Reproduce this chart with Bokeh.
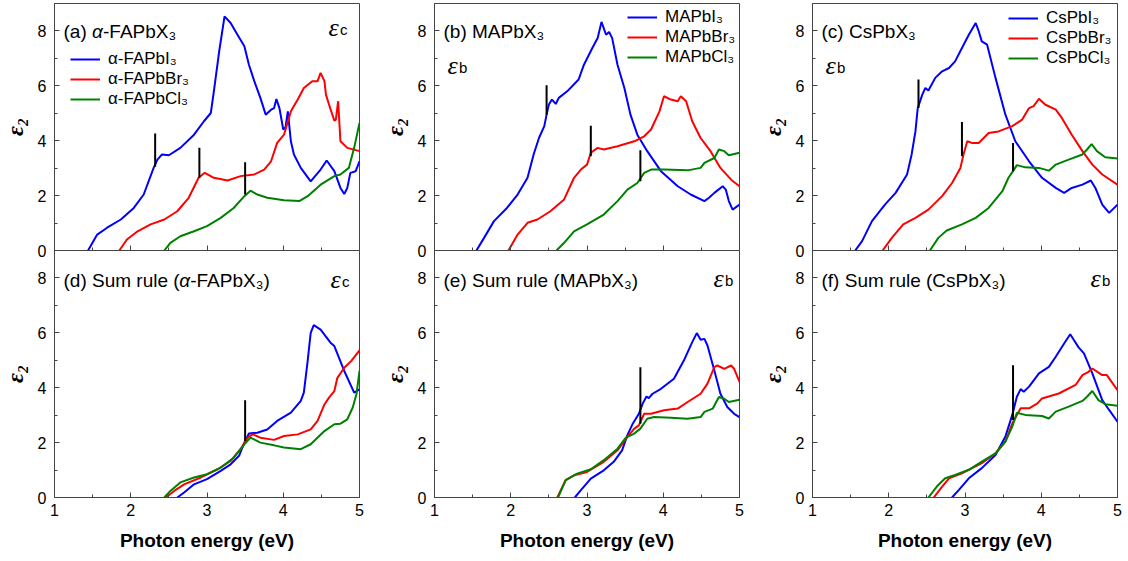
import math
from bokeh.plotting import figure
from bokeh.models import (Range1d, SingleIntervalTicker, Label, Legend, LegendItem,
                          CustomLabelingPolicy)
from bokeh.layouts import row, column
from bokeh.embed import file_html
from bokeh.resources import INLINE

# ---------------- data ----------------
# (a) alpha-FAPbX3, eps_c
A_I_X = [1.44,1.56,1.69,1.87,2.04,2.17,2.30,2.35,2.41,2.50,2.65,2.83,2.96,3.05,3.09,3.16,3.23,3.31,3.40,3.49,3.55,3.62,3.70,3.77,3.84,3.88,3.91,3.95,4.00,4.03,4.06,4.10,4.14,4.23,4.36,4.49,4.57,4.67,4.75,4.80,4.84,4.88,4.95,5.00]
A_I_Y = [0,0.58,0.83,1.13,1.55,2.04,3.01,3.31,3.50,3.47,3.74,4.22,4.71,5.01,5.80,7.26,8.53,8.29,7.86,7.44,6.77,6.17,5.56,4.95,5.13,5.19,5.52,5.19,4.41,4.49,5.07,3.98,3.50,3.01,2.52,2.95,3.28,2.89,2.28,2.06,2.28,2.83,2.89,3.25]
A_BR_X = [1.85,1.95,2.09,2.26,2.44,2.61,2.76,2.89,2.97,3.09,3.27,3.44,3.62,3.75,3.84,3.92,4.01,4.10,4.19,4.27,4.38,4.45,4.49,4.54,4.56,4.60,4.67,4.69,4.72,4.75,4.84,5.00]
A_BR_Y = [0,0.40,0.70,0.95,1.13,1.43,1.92,2.65,2.83,2.65,2.55,2.71,2.77,2.95,3.25,3.92,4.22,5.07,5.50,5.92,6.17,6.17,6.47,6.17,5.68,5.32,4.73,4.77,5.44,3.98,3.74,3.62]
A_CL_X = [2.44,2.52,2.65,2.83,3.00,3.18,3.35,3.49,3.57,3.66,3.79,4.01,4.21,4.32,4.49,4.67,4.75,4.86,4.93,5.00]
A_CL_Y = [0,0.28,0.52,0.70,0.89,1.19,1.55,1.98,2.18,2.04,1.92,1.83,1.80,1.98,2.40,2.71,2.77,3.01,3.74,4.65]
A_MK_X = [2.32,2.90,3.50]
A_MK_Y0 = [3.05,2.65,2.04]
A_MK_Y1 = [4.26,3.74,3.22]

# (b) MAPbX3, eps_b
B_I_X = [1.55,1.65,1.78,1.95,2.09,2.22,2.30,2.37,2.44,2.47,2.50,2.54,2.59,2.63,2.74,2.89,2.96,3.07,3.14,3.19,3.25,3.29,3.33,3.40,3.49,3.57,3.66,3.79,3.97,4.19,4.36,4.54,4.60,4.67,4.78,4.82,4.86,4.91,5.00]
B_I_Y = [0,0.46,1.07,1.55,2.04,2.65,3.50,4.10,4.53,4.95,5.32,5.50,5.34,5.56,5.80,6.23,6.77,7.38,7.74,8.33,7.86,7.96,7.74,6.77,5.92,4.95,4.22,3.62,2.89,2.34,2.04,1.80,1.92,2.10,2.34,2.22,1.80,1.49,1.67]
B_BR_X = [1.97,2.09,2.22,2.35,2.52,2.70,2.83,2.92,3.00,3.05,3.14,3.22,3.40,3.62,3.75,3.84,3.95,4.01,4.10,4.19,4.23,4.30,4.38,4.49,4.62,4.75,4.89,5.00]
B_BR_Y = [0,0.58,1.01,1.13,1.43,1.86,2.65,2.95,3.13,3.56,3.74,3.68,3.80,3.98,4.16,4.41,5.07,5.62,5.50,5.44,5.62,5.44,4.71,4.10,3.62,3.01,2.58,2.34]
B_CL_X = [2.60,2.70,2.83,3.00,3.22,3.40,3.53,3.66,3.75,3.84,4.01,4.32,4.49,4.54,4.67,4.73,4.80,4.86,5.00]
B_CL_Y = [0,0.28,0.70,0.95,1.31,1.80,2.22,2.46,2.83,2.95,2.95,2.92,3.01,3.19,3.37,3.68,3.62,3.47,3.56]
B_MK_X = [2.47,3.05,3.70]
B_MK_Y0 = [4.95,3.43,2.52]
B_MK_Y1 = [6.02,4.55,3.65]

# (c) CsPbX3, eps_b
C_I_X = [1.56,1.65,1.78,1.95,2.09,2.24,2.30,2.35,2.38,2.44,2.48,2.52,2.61,2.70,2.79,2.87,2.96,3.05,3.14,3.18,3.22,3.29,3.40,3.53,3.66,3.84,4.01,4.19,4.30,4.40,4.54,4.65,4.71,4.80,4.89,5.00]
C_I_Y = [0,0.34,1.07,1.67,2.10,2.77,3.50,4.34,5.19,5.68,5.92,5.83,6.29,6.53,6.65,6.89,7.38,7.86,8.29,7.99,7.62,7.50,6.29,4.95,3.98,3.25,2.65,2.28,2.10,2.28,2.40,2.55,2.28,1.67,1.37,1.67]
C_BR_X = [1.92,2.04,2.19,2.35,2.52,2.70,2.83,2.94,2.98,3.03,3.09,3.18,3.31,3.44,3.62,3.75,3.84,3.90,3.97,4.05,4.19,4.27,4.40,4.54,4.67,4.80,5.00]
C_BR_Y = [0,0.46,0.95,1.19,1.49,1.98,2.46,3.01,3.50,3.98,3.92,3.92,4.28,4.34,4.53,4.77,5.19,5.26,5.53,5.32,5.13,4.83,4.22,3.62,3.13,2.77,2.40]
C_CL_X = [2.54,2.65,2.76,2.96,3.14,3.31,3.49,3.57,3.63,3.68,3.79,3.97,4.10,4.19,4.36,4.54,4.60,4.66,4.73,4.84,5.00]
C_CL_Y = [0,0.46,0.73,0.95,1.19,1.55,2.16,2.65,2.89,3.11,3.03,3.01,2.91,3.13,3.31,3.50,3.68,3.88,3.62,3.40,3.35]
C_MK_X = [2.39,2.96,3.63]
C_MK_Y0 = [5.19,3.43,2.89]
C_MK_Y1 = [6.23,4.68,3.92]

# (d) Sum rule alpha-FAPbX3
D_I_X = [2.61,2.70,2.83,3.00,3.18,3.31,3.42,3.49,3.55,3.66,3.79,3.92,4.10,4.23,4.27,4.32,4.36,4.40,4.49,4.62,4.67,4.80,4.93,5.00]
D_I_Y = [0,0.18,0.48,0.67,0.97,1.21,1.52,2.00,2.33,2.36,2.48,2.79,3.09,3.52,3.82,4.97,6.00,6.28,6.12,5.64,5.52,4.61,3.82,3.94]
D_BR_X = [2.46,2.57,2.70,2.92,3.14,3.31,3.44,3.53,3.60,3.70,3.88,4.01,4.19,4.36,4.45,4.54,4.60,4.67,4.71,4.80,4.89,5.00]
D_BR_Y = [0,0.24,0.48,0.73,1.03,1.33,1.76,2.18,2.30,2.18,2.10,2.24,2.30,2.48,2.79,3.39,3.64,3.88,4.36,4.73,4.97,5.36]
D_CL_X = [2.44,2.52,2.65,2.83,3.00,3.18,3.35,3.49,3.57,3.70,3.88,4.01,4.23,4.36,4.54,4.67,4.75,4.84,4.91,4.96,5.00]
D_CL_Y = [0,0.24,0.55,0.73,0.85,1.09,1.45,1.94,2.18,2.00,1.90,1.82,1.76,1.94,2.42,2.67,2.69,2.85,3.27,3.76,4.61]
D_MK_X = [3.50]
D_MK_Y0 = [2.06]
D_MK_Y1 = [3.54]

# (e) Sum rule MAPbX3
E_I_X = [2.84,2.92,3.05,3.22,3.35,3.46,3.53,3.60,3.68,3.73,3.78,3.81,3.86,3.97,4.14,4.27,4.38,4.44,4.49,4.54,4.58,4.67,4.75,4.84,4.93,5.00]
E_I_Y = [0,0.27,0.69,0.99,1.30,1.72,2.27,2.69,3.05,3.42,3.68,3.62,3.78,3.96,4.33,4.99,5.66,5.99,5.75,5.78,5.54,4.63,3.78,3.30,3.05,2.93]
E_BR_X = [2.61,2.72,2.83,3.00,3.22,3.40,3.53,3.62,3.68,3.75,3.84,4.01,4.19,4.32,4.49,4.58,4.67,4.71,4.80,4.89,4.93,5.00]
E_BR_Y = [0,0.63,0.81,0.93,1.30,1.72,2.21,2.51,2.63,3.05,3.05,3.18,3.24,3.48,3.78,4.15,4.75,4.81,4.69,4.81,4.69,4.21]
E_CL_X = [2.62,2.72,2.87,3.05,3.22,3.40,3.51,3.62,3.70,3.79,3.88,4.10,4.32,4.49,4.54,4.65,4.73,4.80,4.86,5.00]
E_CL_Y = [0,0.63,0.87,1.03,1.36,1.78,2.18,2.33,2.51,2.87,2.93,2.91,2.87,2.93,3.12,3.24,3.66,3.60,3.48,3.56]
E_MK_X = [3.70]
E_MK_Y0 = [2.69]
E_MK_Y1 = [4.75]

# (f) Sum rule CsPbX3
F_I_X = [2.83,2.92,3.05,3.22,3.40,3.53,3.62,3.68,3.73,3.77,3.84,3.97,4.10,4.19,4.30,4.38,4.43,4.49,4.56,4.67,4.80,4.89,5.00]
F_I_Y = [0,0.28,0.70,1.07,1.55,2.22,3.01,3.67,3.95,3.85,4.04,4.52,4.76,5.13,5.61,5.95,5.73,5.47,5.25,4.52,3.55,3.19,2.76]
F_BR_X = [2.59,2.70,2.79,2.96,3.22,3.40,3.53,3.62,3.73,3.84,3.95,4.01,4.23,4.45,4.54,4.62,4.67,4.80,4.86,5.00]
F_BR_Y = [0,0.40,0.70,0.88,1.25,1.61,2.04,2.70,3.25,3.25,3.43,3.61,3.79,4.10,4.46,4.58,4.70,4.46,4.46,3.91]
F_CL_X = [2.52,2.63,2.74,2.87,3.05,3.22,3.40,3.53,3.62,3.68,3.79,4.01,4.10,4.19,4.36,4.54,4.60,4.67,4.75,4.84,5.00]
F_CL_Y = [0,0.40,0.70,0.82,1.01,1.31,1.61,2.04,2.58,3.09,3.01,2.97,2.88,3.13,3.31,3.52,3.67,3.88,3.55,3.40,3.34]
F_MK_X = [3.63]
F_MK_Y0 = [2.82]
F_MK_Y1 = [4.82]

LEG_A = ["α-FAPbI₃", "α-FAPbBr₃", "α-FAPbCl₃"]
LEG_B = ["MAPbI₃", "MAPbBr₃", "MAPbCl₃"]
LEG_C = ["CsPbI₃", "CsPbBr₃", "CsPbCl₃"]
X_LABEL = "Photon energy (eV)"
Y_LABEL = "ε₂"

# ---------------- styling / layout ----------------
BLUE, RED, GREEN = "#0000ff", "#ff0000", "#008000"
FRAME_C = "#444444"
SANS = "Liberation Sans"
SERIF = "Liberation Serif"
SHIFT = 12                 # canvases start this far left of their slot
LEFT = 54 + SHIFT          # left border inside each canvas
COL_W = [380 + SHIFT, 378 + SHIFT, 370 + SHIFT]
COL_RB = [21, 19, 11]
FRAME_W = 305
FRAME_H = 247
OVER = 12                  # top row overflows into bottom row by this much
BOT_B = 64
XPX = FRAME_W / 4.0
YPX = FRAME_H / 9.0

HIDE_ALL = CustomLabelingPolicy(code="""
for (const i of indices) { indices.unset(i) }
return indices
""")


def fx(px):  # frame-relative pixel -> data x
    return 1 + px / XPX


def fy(py):  # pixels below frame top -> data y
    return 9 - py / YPX


def lab(p, x, y, text, size, font=SANS, style="normal", align="left",
        baseline="alphabetic"):
    p.add_layout(Label(x=x, y=y, text=text, text_font=font,
                       text_font_size=f"{size}px", text_font_style=style,
                       text_align=align, text_baseline=baseline,
                       text_color="black"))


def make_fig(col, bottom):
    if bottom:
        p = figure(width=COL_W[col], height=FRAME_H + BOT_B,
                   x_range=Range1d(1, 5), y_range=Range1d(0, 9),
                   output_backend="svg", toolbar_location=None,
                   min_border_left=LEFT, min_border_right=COL_RB[col],
                   min_border_top=0, min_border_bottom=BOT_B,
                   margin=(0, 0, 0, -SHIFT))
    else:
        p = figure(width=COL_W[col], height=3 + FRAME_H + OVER,
                   x_range=Range1d(1, 5), y_range=Range1d(0, 9),
                   output_backend="svg", toolbar_location=None,
                   min_border_left=LEFT, min_border_right=COL_RB[col],
                   min_border_top=3, min_border_bottom=OVER,
                   margin=(0, 0, -OVER, -SHIFT))
    p.xgrid.visible = False
    p.ygrid.visible = False
    p.outline_line_color = FRAME_C
    p.outline_line_width = 1
    p.background_fill_color = "white"
    p.border_fill_alpha = 0
    p.xaxis.ticker = SingleIntervalTicker(interval=1, num_minor_ticks=2)
    p.yaxis.ticker = SingleIntervalTicker(interval=2, num_minor_ticks=2)
    for ax in (p.xaxis[0], p.yaxis[0]):
        ax.axis_line_color = FRAME_C
        ax.major_tick_line_color = FRAME_C
        ax.minor_tick_line_color = FRAME_C
        ax.major_tick_in = 5
        ax.major_tick_out = 0
        ax.minor_tick_in = 3
        ax.minor_tick_out = 0
        ax.major_label_text_font = SANS
        ax.major_label_text_font_size = "16px"
        ax.major_label_text_color = "black"
    p.yaxis.major_label_standoff = 8
    p.yaxis.axis_label = Y_LABEL
    p.yaxis.axis_label_text_font = SERIF
    p.yaxis.axis_label_text_font_size = "24px"
    p.yaxis.axis_label_text_font_style = "bold italic"
    p.yaxis.axis_label_text_color = "black"
    p.yaxis.axis_label_standoff = 7
    if bottom:
        p.xaxis.major_label_standoff = 6
        p.xaxis.axis_label = X_LABEL
        p.xaxis.axis_label_text_font = SANS
        p.xaxis.axis_label_text_font_size = "19px"
        p.xaxis.axis_label_text_font_style = "bold"
        p.xaxis.axis_label_text_color = "black"
        p.xaxis.axis_label_standoff = 11
    else:
        p.xaxis.major_label_text_font_size = "1px"
        p.xaxis.major_label_standoff = 0
        p.xaxis.major_label_policy = HIDE_ALL
    return p


def curves(p, xs, ys):
    rs = []
    for (x, y), c in zip(zip(xs, ys), (BLUE, RED, GREEN)):
        rs.append(p.line(x, y, line_color=c, line_width=2))
    return rs


def marks(p, mx, my0, my1):
    p.segment(x0=mx, y0=my0, x1=mx, y1=my1, line_color="black", line_width=2)


def legend(p, rs, names, loc):
    items = [LegendItem(label=n, renderers=[r]) for n, r in zip(names, rs)]
    lg = Legend(items=items, location=loc, glyph_width=30, glyph_height=20,
                label_height=20, label_standoff=8, spacing=0, padding=0,
                margin=0, border_line_alpha=0, background_fill_alpha=0,
                label_text_font=SANS, label_text_font_size="17px",
                label_text_color="black")
    p.add_layout(lg)


def eps_sub(p, x_px, base_px, sub):
    lab(p, fx(x_px), fy(base_px), "ε", 26, font=SERIF, style="italic")
    lab(p, fx(x_px + 11.5), fy(base_px + 1.5), sub, 15)


# ---- top row ----
pa = make_fig(0, False)
ra = curves(pa, [A_I_X, A_BR_X, A_CL_X], [A_I_Y, A_BR_Y, A_CL_Y])
marks(pa, A_MK_X, A_MK_Y0, A_MK_Y1)
legend(pa, ra, LEG_A, (16, 141))
lab(pa, fx(9), fy(28), "(a) ", 19)
lab(pa, fx(9 + 28.5), fy(28), "α", 19, style="italic")
lab(pa, fx(9 + 39.5), fy(28), "-FAPbX₃", 19)
eps_sub(pa, 274, 24, "c")

pb = make_fig(1, False)
rb = curves(pb, [B_I_X, B_BR_X, B_CL_X], [B_I_Y, B_BR_Y, B_CL_Y])
marks(pb, B_MK_X, B_MK_Y0, B_MK_Y1)
legend(pb, rb, LEG_B, (193, 183))
lab(pb, fx(9), fy(28), "(b) MAPbX₃", 19)
eps_sub(pb, 13, 62, "b")

pc = make_fig(2, False)
rc = curves(pc, [C_I_X, C_BR_X, C_CL_X], [C_I_Y, C_BR_Y, C_CL_Y])
marks(pc, C_MK_X, C_MK_Y0, C_MK_Y1)
legend(pc, rc, LEG_C, (196, 182))
lab(pc, fx(9), fy(28), "(c) CsPbX₃", 19)
eps_sub(pc, 13, 62, "b")

# ---- bottom row ----
pd = make_fig(0, True)
curves(pd, [D_I_X, D_BR_X, D_CL_X], [D_I_Y, D_BR_Y, D_CL_Y])
marks(pd, D_MK_X, D_MK_Y0, D_MK_Y1)
lab(pd, fx(9), fy(30), "(d) Sum rule (", 19)
lab(pd, fx(9 + 115.7), fy(30), "α", 19, style="italic")
lab(pd, fx(9 + 126.7), fy(30), "-FAPbX₃)", 19)
eps_sub(pd, 276, 29, "c")

pe = make_fig(1, True)
curves(pe, [E_I_X, E_BR_X, E_CL_X], [E_I_Y, E_BR_Y, E_CL_Y])
marks(pe, E_MK_X, E_MK_Y0, E_MK_Y1)
lab(pe, fx(9), fy(30), "(e) Sum rule (MAPbX₃)", 19)
eps_sub(pe, 279, 28, "b")

pf = make_fig(2, True)
curves(pf, [F_I_X, F_BR_X, F_CL_X], [F_I_Y, F_BR_Y, F_CL_Y])
marks(pf, F_MK_X, F_MK_Y0, F_MK_Y1)
lab(pf, fx(9), fy(30), "(f) Sum rule (CsPbX₃)", 19)
eps_sub(pf, 278, 28, "b")

layout = column(row(pa, pb, pc, spacing=0), row(pd, pe, pf, spacing=0), spacing=0)

with open("out.html", "w") as f:
    f.write(file_html(layout, INLINE))
